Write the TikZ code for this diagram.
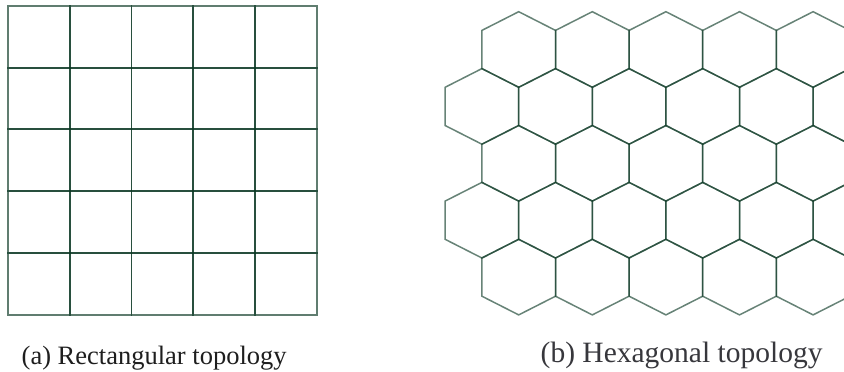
\documentclass[tikz,border=0pt]{standalone}
\usepackage{fontspec}
\setmainfont{Liberation Serif}
\definecolor{gridgreen}{RGB}{10,55,35}
\definecolor{capa}{RGB}{30,30,30}
\definecolor{capb}{RGB}{55,55,60}
\tikzset{
  cell/.style={draw=gridgreen, draw opacity=0.65, line width=1.9pt, line join=miter},
  hexcell/.style={draw=gridgreen, draw opacity=0.62, line width=1.5pt, line join=miter},
  caption/.style={anchor=base west, inner sep=0pt, outer sep=0pt}
}
\begin{document}
\begin{tikzpicture}[x=1pt,y=-1pt]
\useasboundingbox (0,0) rectangle (844,372);
% (a) rectangular grid
\foreach \i in {0,...,4}{
  \foreach \j in {0,...,4}{
    \draw[cell] ({8+61.74*\i},{5.7+61.86*\j}) rectangle ({8+61.74*(\i+1)},{5.7+61.86*(\j+1)});
  }
}
% (b) hexagonal grid
\begin{scope}
\clip (430,0) rectangle (844,330);
\foreach \r in {0,2,4}{
  \foreach \k in {0,...,4}{
    \pgfmathsetmacro{\cx}{518.7+73.6*\k}
    \pgfmathsetmacro{\cy}{49.5+56.9*\r}
    \draw[hexcell] (\cx,\cy-37.8) -- (\cx+36.8,\cy-19.1) -- (\cx+36.8,\cy+19.1) -- (\cx,\cy+37.8) -- (\cx-36.8,\cy+19.1) -- (\cx-36.8,\cy-19.1) -- cycle;
  }
}
\foreach \r in {1,3}{
  \foreach \k in {0,...,5}{
    \pgfmathsetmacro{\cx}{481.9+73.6*\k}
    \pgfmathsetmacro{\cy}{49.5+56.9*\r}
    \draw[hexcell] (\cx,\cy-37.8) -- (\cx+36.8,\cy-19.1) -- (\cx+36.8,\cy+19.1) -- (\cx,\cy+37.8) -- (\cx-36.8,\cy+19.1) -- (\cx-36.8,\cy-19.1) -- cycle;
  }
}
\end{scope}
% captions
\node[caption, text=capa, font=\fontsize{26.5}{30}\selectfont] (capA) at (21.7,364) {(a) Rectangular topology};
\node[caption, text=capb, font=\fontsize{29.5}{33}\selectfont] (capB) at (540.7,362) {(b) Hexagonal topology};
\end{tikzpicture}
\end{document}
